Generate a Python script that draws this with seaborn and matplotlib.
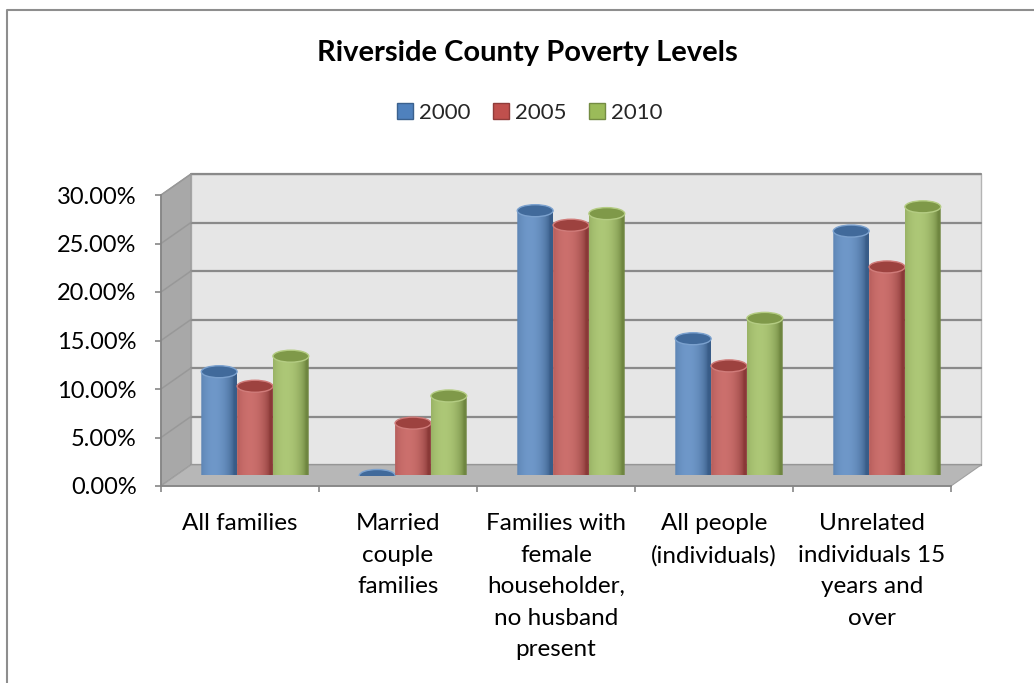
import numpy as np
import pandas as pd
import matplotlib
matplotlib.use("Agg")
import matplotlib.pyplot as plt
import matplotlib.colors as mcolors
from matplotlib.patches import Polygon, Rectangle, Ellipse
from matplotlib.path import Path
from matplotlib.ticker import FixedLocator, FuncFormatter
import seaborn as sns

# ---------------------------------------------------------------- data
categories = [
    "All families",
    "Married\ncouple\nfamilies",
    "Families with\nfemale\nhouseholder,\nno husband\npresent",
    "All people\n(individuals)",
    "Unrelated\nindividuals 15\nyears and\nover",
]
years = ["2000", "2005", "2010"]
rate_2000 = [10.7, 0.0, 27.3, 14.1, 25.2]
rate_2005 = [9.2, 5.4, 25.8, 11.3, 21.5]
rate_2010 = [12.3, 8.2, 27.0, 16.2, 27.7]
year_colors = ["#4F81BD", "#C0504D", "#9BBB59"]
y_ticks = [0, 5, 10, 15, 20, 25, 30]
title = "Riverside County Poverty Levels"

df = pd.DataFrame({
    "category": categories * 3,
    "year": [y for y in years for _ in categories],
    "rate": rate_2000 + rate_2005 + rate_2010,
})

# ---------------------------------------------------------------- layout (pixels)
W, H = 1034, 683
FX0, FX1 = 161, 951          # front plane, left / right
FY0, FY1 = 486, 195          # front plane, y of 0 % / y of 30 %
DX, DY = 30, -21             # depth offset of the back wall
YMAX = y_ticks[-1]

sns.set_theme(style="white")
plt.rcParams["font.family"] = ["Lato", "DejaVu Sans"]

fig = plt.figure(figsize=(W / 100, H / 100), dpi=100)
fig.patch.set_facecolor("white")


def px_axes(x0, x1, yb, yt, z):
    a = fig.add_axes([x0 / W, 1 - yb / H, (x1 - x0) / W, (yb - yt) / H], zorder=z)
    a.patch.set_alpha(0)
    return a


# background canvas in pixel units for the 3-D box
bg = fig.add_axes([0, 0, 1, 1], zorder=0)
bg.set_xlim(0, W)
bg.set_ylim(H, 0)
bg.axis("off")

def fy(v):   # front-plane pixel y of a value
    return FY0 + (FY1 - FY0) * v / YMAX

# chart frame
bg.plot([7, 7, W], [H, 10, 10], color="#8e8e8e", lw=1.5, solid_capstyle="butt")

# back wall
bg.add_patch(Rectangle((FX0 + DX, FY1 + DY), FX1 - FX0, FY0 - FY1,
                       facecolor="#e6e6e6", edgecolor="#b4b4b4", lw=1.0, zorder=1))
for t in y_ticks:
    y = fy(t) + DY
    bg.plot([FX0 + DX, FX1 + DX], [y, y], color="#8a8a8a", lw=1.6, zorder=2)
# side wall
bg.add_patch(Polygon([(FX0, FY1), (FX0 + DX, FY1 + DY), (FX0 + DX, FY0 + DY), (FX0, FY0)],
                     closed=True, facecolor="#a8a8a8", edgecolor="#9a9a9a", lw=0.8, zorder=1))
for t in y_ticks:
    bg.plot([FX0, FX0 + DX], [fy(t), fy(t) + DY], color="#989898", lw=1.1, zorder=2)
# floor
bg.add_patch(Polygon([(FX0, FY0), (FX0 + DX, FY0 + DY), (FX1 + DX, FY0 + DY), (FX1, FY0)],
                     closed=True, facecolor="#b7b7b7", edgecolor="#a0a0a0", lw=0.8, zorder=3))

# ---------------------------------------------------------------- front axes (ticks and labels)
ax = px_axes(FX0, FX1, FY0, FY1, 2)
ax.set_xlim(-0.5, len(categories) - 0.5)
ax.set_ylim(0, YMAX)
for s in ["top", "right"]:
    ax.spines[s].set_visible(False)
for s in ["left", "bottom"]:
    ax.spines[s].set_color("#868686")
    ax.spines[s].set_linewidth(1.3)
ax.set_yticks(y_ticks)
ax.yaxis.set_major_formatter(FuncFormatter(lambda v, p: f"{v:.2f}%"))
ax.tick_params(axis="y", direction="out", length=4.5, width=1.2, color="#868686",
               labelsize=17, pad=13, labelcolor="black", left=True)
ax.xaxis.set_major_locator(FixedLocator(np.arange(-0.5, len(categories), 1.0)))
ax.xaxis.set_minor_locator(FixedLocator(np.arange(len(categories))))
ax.set_xticklabels([], minor=False)
ax.set_xticklabels(categories, minor=True, fontsize=17.5, linespacing=1.62,
                   va="top", ha="center")
ax.tick_params(axis="x", which="major", direction="out", length=4.5, width=1.2,
               color="#868686", bottom=True)
ax.tick_params(axis="x", which="minor", length=0, pad=19.5, labelcolor="black")
ax.set_xlabel("")
ax.set_ylabel("")

# ---------------------------------------------------------------- cylinders (mid depth)
bx = px_axes(FX0 + DX / 2, FX1 + DX / 2, FY0 + DY / 2, FY1 + DY / 2, 3)
sns.barplot(data=df, x="category", y="rate", hue="year", order=categories,
            hue_order=years, palette=year_colors, saturation=1, width=0.68,
            legend=False, ax=bx)
bx.set_xlim(-0.5, len(categories) - 0.5)
bx.set_ylim(0, YMAX)
bx.axis("off")

ry = 6.0 * YMAX / (FY0 - FY1)         # half height of the elliptic caps
t = np.linspace(0, 1, 80)
shade = np.clip(np.cos((t - 0.36) * np.pi * 0.9), 0, 1) ** 0.6

for i, cont in enumerate(bx.containers):
    base = np.array(mcolors.to_rgb(year_colors[i]))
    dark = base * 0.72
    light = base + (1 - base) * 0.18
    grad = dark[None, :] + (light - dark)[None, :] * shade[:, None]
    cap = base * 0.82
    rim = base + (1 - base) * 0.25
    for bar in cont:
        x, w, h = bar.get_x(), bar.get_width(), bar.get_height()
        bar.set_facecolor("none")
        bar.set_edgecolor("none")
        th = np.linspace(np.pi, 2 * np.pi, 40)
        verts = [(x, h), (x, 0)]
        verts += list(zip(x + w / 2 + w / 2 * np.cos(th), ry * np.sin(th)))
        verts += [(x + w, h), (x, h)]
        body = Path(verts, closed=True)
        im = bx.imshow(grad[None, :, :], extent=[x, x + w, -ry, h], aspect="auto",
                       interpolation="bilinear", zorder=4 + i)
        im.set_clip_path(body, transform=bx.transData)
        bx.add_patch(Ellipse((x + w / 2, h), w, 2 * ry, facecolor=cap,
                             edgecolor=rim, lw=1.0, zorder=4 + i))
bx.set_xlim(-0.5, len(categories) - 0.5)
bx.set_ylim(0, YMAX)

# ---------------------------------------------------------------- title and legend
fig.text(527 / W, 1 - 53 / H, title, ha="center", va="center",
         fontsize=21, fontweight="bold", color="black")
handles = [Rectangle((0, 0), 1, 1, facecolor=c,
                     edgecolor=tuple(np.array(mcolors.to_rgb(c)) * 0.75), lw=1.0)
           for c in year_colors]
fig.legend(handles, years, loc="center", bbox_to_anchor=(530 / W, 1 - 113 / H),
           ncol=3, frameon=False, fontsize=16, handlelength=0.7, handleheight=0.75,
           handletextpad=0.3, columnspacing=1.0, borderaxespad=0)

fig.savefig("out.png", dpi=100)
